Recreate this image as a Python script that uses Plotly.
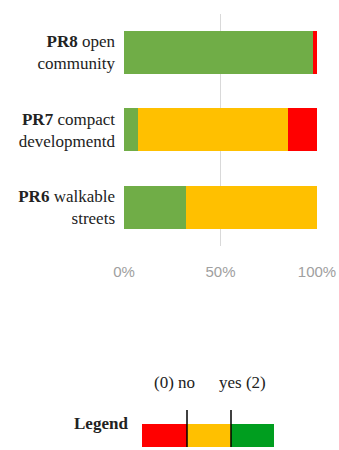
import plotly.graph_objects as go

categories = ["<b>PR6</b> walkable<br>streets",
              "<b>PR7</b> compact<br>developmentd",
              "<b>PR8</b> open<br>community"]
yes_vals = [0.32, 0.075, 0.98]
partial_vals = [0.68, 0.775, 0.0]
no_vals = [0.0, 0.15, 0.02]
tick_vals = [0, 0.5, 1.0]
tick_text = ["0%", "50%", "100%"]

W, H = 339, 450
fig = go.Figure()
for name, vals, col in [("yes (2)", yes_vals, "#70AD47"),
                        ("partial (1)", partial_vals, "#FFC000"),
                        ("no (0)", no_vals, "#FF0000")]:
    fig.add_trace(go.Bar(y=categories, x=vals, orientation="h", name=name,
                         marker=dict(color=col, line=dict(width=0)),
                         width=0.555, showlegend=False))

serif = "Liberation Serif, Times New Roman, serif"
fig.update_layout(
    width=W, height=H, margin=dict(l=0, r=0, t=0, b=0),
    barmode="stack", plot_bgcolor="white", paper_bgcolor="white",
    font=dict(family=serif, size=17, color="#222"),
    xaxis=dict(domain=[124/W, 317/W], range=[0, 1], tickvals=tick_vals,
               ticktext=tick_text, showgrid=True, gridcolor="#D9D9D9",
               gridwidth=1, zeroline=False, showline=False, automargin=False,
               tickfont=dict(family="Liberation Sans, sans-serif", size=15, color="#A0A0A0"),
               ticklabelstandoff=15),
    yaxis=dict(domain=[1-246/H, 1-13.75/H], range=[-0.5, 2.5], automargin=False,
               tickfont=dict(family=serif, size=17, color="#222"),
               showline=False, showgrid=False, zeroline=False,
               ticklabelstandoff=8),
)

def px(x): return x / W
def py(y): return 1 - y / H
leg_cols = [("#FF0000", 142, 187), ("#FFC000", 187, 231), ("#009E1F", 231, 274)]
for col, x0, x1 in leg_cols:
    fig.add_shape(type="rect", xref="paper", yref="paper",
                  x0=px(x0), x1=px(x1), y0=py(447), y1=py(424),
                  fillcolor=col, line=dict(width=0))
for xx in [187, 231]:
    fig.add_shape(type="line", xref="paper", yref="paper",
                  x0=px(xx), x1=px(xx), y0=py(447), y1=py(410),
                  line=dict(color="black", width=1.5))
fig.add_annotation(x=px(130), y=py(435), xref="paper", yref="paper",
                   text="<b>Legend</b>", showarrow=False, xanchor="right",
                   font=dict(family=serif, size=17, color="#222"))
fig.add_annotation(x=px(175), y=py(394), xref="paper", yref="paper",
                   text="(0) no", showarrow=False, xanchor="center",
                   font=dict(family=serif, size=17, color="#222"))
fig.add_annotation(x=px(242), y=py(394), xref="paper", yref="paper",
                   text="yes (2)", showarrow=False, xanchor="center",
                   font=dict(family=serif, size=17, color="#222"))

fig.write_html("out.html", config={"responsive": False, "displayModeBar": False},
               post_script="document.documentElement.style.overflow='hidden';document.body.style.margin='0';")
